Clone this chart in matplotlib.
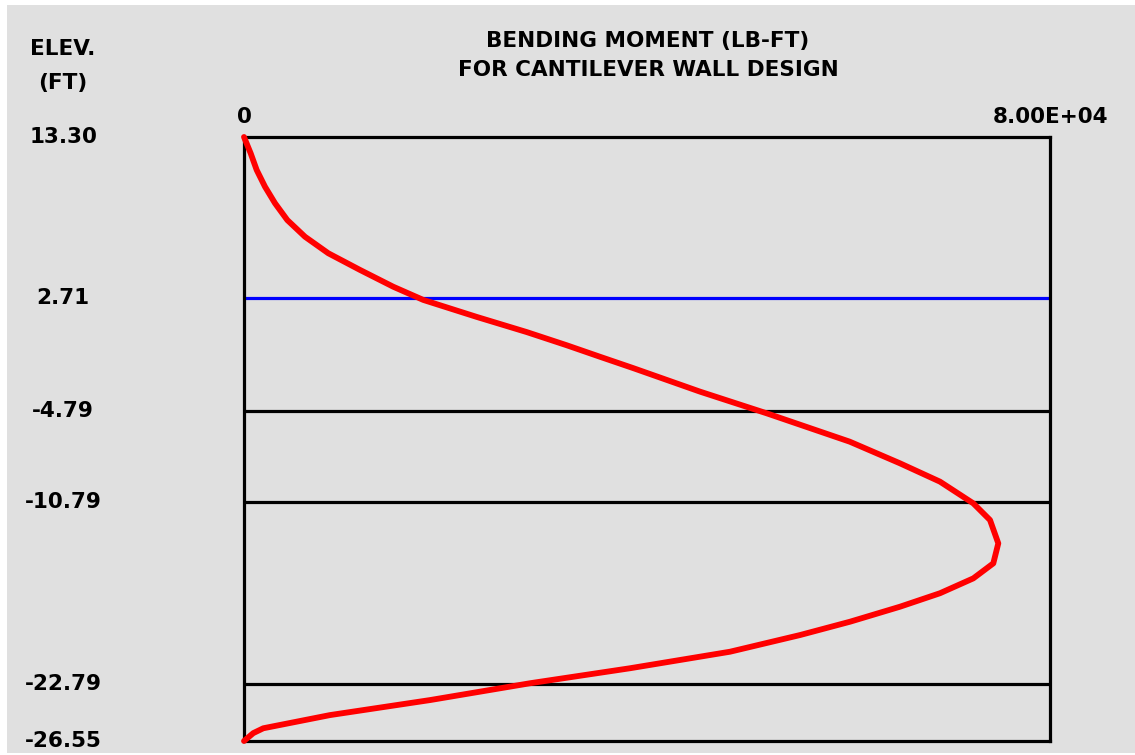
"""
Bending moment diagram for a cantilever sheet pile wall, redrawn from a screenshot.
"""
import matplotlib
matplotlib.use("Agg")
import matplotlib.pyplot as plt
import matplotlib.transforms as mtransforms
from matplotlib.patches import Rectangle

# Curve: elevation (ft) vs bending moment (lb-ft)
elevation = [13.30, 12.22, 11.12, 10.02, 8.93, 7.82, 6.72, 5.63, 4.53, 3.42,
             2.55, 1.43, 0.43, -0.44, -1.20, -1.95, -3.50, -4.93, -6.80, -8.23,
             -9.44, -10.87, -11.97, -13.51, -14.83, -15.82, -16.80, -17.69,
             -18.68, -19.56, -20.66, -21.75, -22.74, -23.85, -24.84, -25.71,
             -26.03, -26.55]
moment = [0, 665, 1261, 2084, 3077, 4298, 6054, 8367, 11514, 14819,
          17797, 23097, 28060, 32030, 35335, 38640, 45261, 51880, 60116, 65112,
          69082, 72387, 74045, 74868, 74372, 72387, 69082, 65112,
          60149, 55186, 48238, 38313, 28387, 18462, 8536, 1916,
          920, 0]

# Layer boundaries: water table (blue) and soil layers (black)
water_level = 2.71
layer_levels = [-4.79, -10.79, -22.79]
elev_labels = [13.30, 2.71, -4.79, -10.79, -22.79, -26.55]
x_max = 8.0e4
y_top, y_bot = 13.30, -26.55

W, H = 1135, 755
bg = '#e0e0e0'

plt.rcParams['font.family'] = 'DejaVu Sans'
plt.rcParams['font.weight'] = 'bold'

fig = plt.figure(figsize=(W / 100, H / 100), dpi=100)
fig.patch.set_facecolor('white')
fig.patches.append(Rectangle((7 / W, 2 / H), 1 - 7 / W, (H - 7) / H,
                             transform=fig.transFigure, facecolor=bg,
                             edgecolor='none', zorder=-5))

ax = fig.add_axes([244 / W, 1 - 741 / H, (1050 - 244) / W, (741 - 137) / H])
ax.set_zorder(2)
ax.set_facecolor(bg)
ax.set_xlim(0, x_max)
ax.set_ylim(y_bot, y_top)
ax.set_xticks([])
ax.set_yticks([])
for s in ax.spines.values():
    s.set_linewidth(2.3)
    s.set_color('black')

ax.axhline(water_level, color='#0000ff', lw=2.3, zorder=2)
for lv in layer_levels:
    ax.axhline(lv, color='black', lw=2.3, zorder=2)

ax.plot(moment, elevation, color='#ff0000', lw=4.2, zorder=3,
        solid_capstyle='round', solid_joinstyle='round', clip_on=False)

fs = 15.5
# elevation labels on the left
tr_y = mtransforms.blended_transform_factory(fig.transFigure, ax.transData)
for v in elev_labels:
    ax.text(63 / W, v, '%.2f' % v, transform=tr_y, ha='center', va='center',
            fontsize=fs, fontweight='bold')

fig.text(63 / W, 1 - 49 / H, 'ELEV.', ha='center', va='center',
         fontsize=fs, fontweight='bold')
fig.text(63 / W, 1 - 83 / H, '(FT)', ha='center', va='center',
         fontsize=fs, fontweight='bold')

# moment scale at top
tr_x = mtransforms.blended_transform_factory(ax.transData, fig.transFigure)
ax.text(0, 1 - 117 / H, '0', transform=tr_x, ha='center', va='center',
        fontsize=fs, fontweight='bold')
ax.text(x_max, 1 - 117 / H, '%.2E' % x_max, transform=tr_x, ha='center',
        va='center', fontsize=fs, fontweight='bold')

fig.text(648 / W, 1 - 41 / H, 'BENDING MOMENT (LB-FT)', ha='center',
         va='center', fontsize=fs, fontweight='bold')
fig.text(648 / W, 1 - 70 / H, 'FOR CANTILEVER WALL DESIGN', ha='center',
         va='center', fontsize=fs, fontweight='bold')

fig.savefig('out.png', dpi=100, facecolor=fig.get_facecolor())
